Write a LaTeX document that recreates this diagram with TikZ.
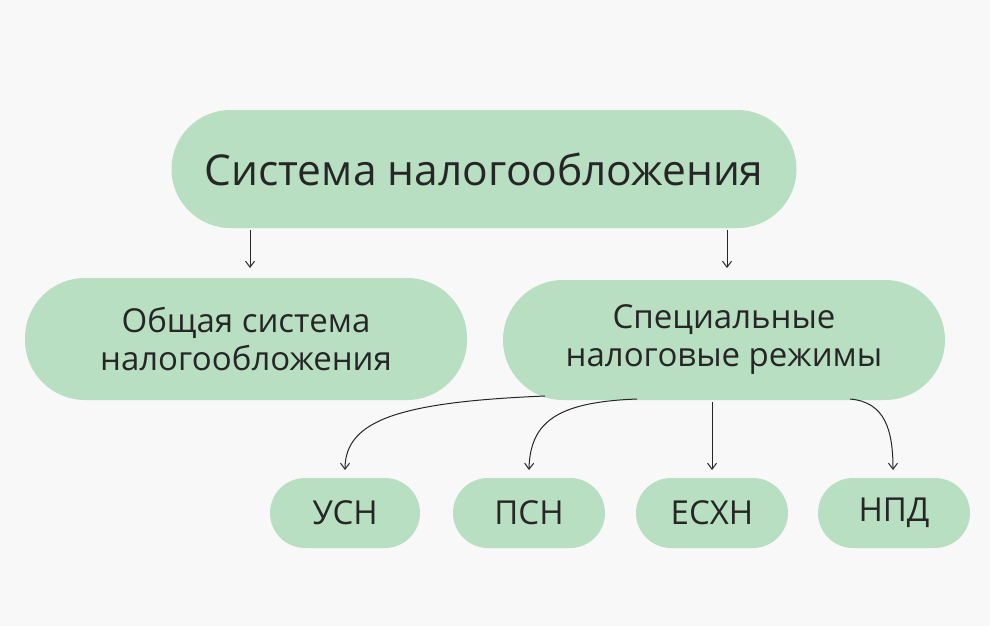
\documentclass[tikz,border=0pt]{standalone}
\usepackage{fontspec}
\setmainfont{Open Sans}
\usetikzlibrary{arrows.meta}
\definecolor{bg}{HTML}{F8F8F8}
\definecolor{blob}{HTML}{B9DFC2}
\begin{document}
\begin{tikzpicture}[x=1pt,y=-1pt,
  blob/.style={fill=blob,draw=none,rounded corners=#1,inner sep=0pt,align=center,font=\fontsize{33}{38}\selectfont\color{black!85}},
  arr/.style={draw=black!85,line width=1pt,-{Straight Barb[length=6pt,width=9pt]}}]
\fill[bg] (0,0) rectangle (990,626);
\node[blob=59,minimum width=625,minimum height=118,font=\fontsize{42.5}{48}\selectfont\color{black!85}] (top) at (484,169) {Система налогообложения};
\node[blob=60,minimum width=442,minimum height=122] (gen) at (246,339) {Общая система\\налогообложения};
\node[blob=60,minimum width=442,minimum height=120] (spec) at (724,340) {Специальные\\налоговые режимы};
\node[blob=35,minimum width=150,minimum height=70] (usn) at (345,513) {УСН};
\node[blob=35,minimum width=152,minimum height=70] (psn) at (529,513) {ПСН};
\node[blob=35,minimum width=152,minimum height=70] (esh) at (712,513) {ЕСХН};
\node[blob=35,minimum width=152,minimum height=70] (npd) at (894,513) {НПД};
\coordinate (a1) at (250,230); \coordinate (a2) at (727,230);
\coordinate (s1) at (545,396); \coordinate (s2) at (637,399);
\coordinate (s3) at (712,402); \coordinate (s4) at (850,399);
\coordinate (e1) at (345,470); \coordinate (e2) at (529,470);
\coordinate (e3) at (712,470); \coordinate (e4) at (893,470);
\draw[arr] (a1) -- (250,268);
\draw[arr] (a2) -- (727,268);
\draw[arr] (s1) .. controls (400,402) and (345,420) .. (e1);
\draw[arr] (s2) .. controls (560,402) and (530,420) .. (e2);
\draw[arr] (s3) -- (e3);
\draw[arr] (s4) .. controls (885,402) and (893,430) .. (e4);
\end{tikzpicture}
\end{document}
